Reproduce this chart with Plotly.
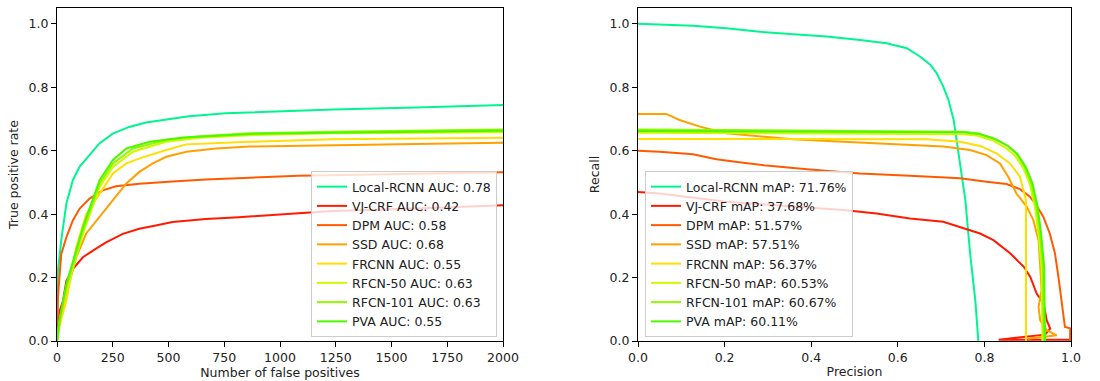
import plotly.graph_objects as go

# ---------------- data: left panel (FROC) ----------------
local_fp  = [0, 4, 19, 42, 71, 101, 138, 190, 250, 324, 399, 488, 592, 756, 964, 1238, 1611, 2000]
local_tpr = [0, 0.22, 0.317, 0.433, 0.507, 0.549, 0.58, 0.623, 0.654, 0.675, 0.689, 0.699, 0.709, 0.718, 0.723, 0.73, 0.736, 0.744]

vj_fp  = [0, 4, 12, 27, 42, 71, 116, 161, 220, 295, 369, 443, 518, 667, 815, 1083, 1238, 1611, 2000]
vj_tpr = [0, 0.04, 0.095, 0.127, 0.19, 0.227, 0.264, 0.285, 0.311, 0.338, 0.354, 0.364, 0.375, 0.385, 0.39, 0.403, 0.41, 0.418, 0.428]

dpm_fp  = [0, 4, 19, 42, 71, 101, 146, 205, 265, 369, 518, 667, 1083, 1500, 2000]
dpm_tpr = [0, 0.137, 0.274, 0.327, 0.38, 0.417, 0.449, 0.475, 0.488, 0.496, 0.503, 0.509, 0.521, 0.526, 0.532]

ssd_fp  = [0, 12, 42, 87, 131, 191, 251, 311, 371, 430, 490, 580, 714, 864, 1238, 1611, 2000]
ssd_tpr = [0, 0.06, 0.15, 0.265, 0.339, 0.39, 0.444, 0.497, 0.534, 0.56, 0.581, 0.597, 0.607, 0.613, 0.616, 0.621, 0.625]

frcnn_fp  = [0, 12, 42, 87, 131, 191, 251, 311, 371, 490, 580, 864, 1238, 2000]
frcnn_tpr = [0, 0.05, 0.128, 0.297, 0.4, 0.465, 0.528, 0.56, 0.576, 0.602, 0.62, 0.628, 0.636, 0.641]

rfcn50_fp  = [0, 12, 42, 117, 191, 251, 341, 490, 640, 864, 1238, 2000]
rfcn50_tpr = [0, 0.06, 0.16, 0.339, 0.486, 0.549, 0.597, 0.628, 0.641, 0.649, 0.655, 0.658]

rfcn101_fp  = [0, 12, 42, 117, 191, 251, 341, 490, 640, 864, 1238, 2000]
rfcn101_tpr = [0, 0.065, 0.17, 0.35, 0.497, 0.56, 0.607, 0.634, 0.646, 0.655, 0.66, 0.667]

pva_fp  = [0, 12, 42, 117, 191, 251, 311, 416, 565, 864, 1238, 2000]
pva_tpr = [0, 0.07, 0.18, 0.36, 0.507, 0.571, 0.607, 0.628, 0.642, 0.653, 0.657, 0.663]

# ---------------- data: right panel (PR) ----------------
local_p = [0, 0.05, 0.127, 0.204, 0.281, 0.359, 0.436, 0.513, 0.574, 0.621, 0.651, 0.675, 0.69, 0.705, 0.717, 0.729, 0.736, 0.744, 0.756, 0.767, 0.779, 0.786]
local_r = [1.0, 0.997, 0.994, 0.986, 0.975, 0.967, 0.96, 0.949, 0.939, 0.923, 0.897, 0.871, 0.844, 0.802, 0.76, 0.697, 0.634, 0.549, 0.444, 0.276, 0.128, 0.0]

vj_p = [0, 0.05, 0.204, 0.359, 0.474, 0.551, 0.628, 0.705, 0.744, 0.79, 0.821, 0.86, 0.891, 0.906, 0.921, 0.937, 0.944, 0.952, 0.94, 0.833, 1.0]
vj_r = [0.47, 0.465, 0.439, 0.423, 0.413, 0.402, 0.386, 0.376, 0.36, 0.339, 0.318, 0.276, 0.234, 0.202, 0.149, 0.118, 0.065, 0.039, 0.02, 0.004, 0.004]

dpm_p = [0, 0.05, 0.127, 0.181, 0.243, 0.296, 0.397, 0.512, 0.628, 0.744, 0.805, 0.851, 0.882, 0.905, 0.92, 0.936, 0.951, 0.963, 0.971, 0.978, 0.986, 0.998, 0.998]
dpm_r = [0.6, 0.597, 0.589, 0.573, 0.562, 0.553, 0.541, 0.528, 0.521, 0.513, 0.502, 0.495, 0.479, 0.455, 0.428, 0.392, 0.339, 0.276, 0.202, 0.128, 0.044, 0.04, 0.0]

ssd_p = [0, 0.065, 0.096, 0.143, 0.204, 0.281, 0.358, 0.474, 0.589, 0.705, 0.767, 0.805, 0.836, 0.855, 0.874, 0.898, 0.913, 0.925, 0.929, 0.932, 0.925, 0.929, 0.944, 0.967, 0.9]
ssd_r = [0.716, 0.716, 0.697, 0.676, 0.655, 0.646, 0.636, 0.628, 0.621, 0.613, 0.602, 0.586, 0.56, 0.518, 0.465, 0.423, 0.381, 0.318, 0.234, 0.16, 0.107, 0.065, 0.034, 0.018, 0.007]

frcnn_p = [0, 0.666, 0.744, 0.79, 0.828, 0.859, 0.882, 0.896, 0.896]
frcnn_r = [0.637, 0.636, 0.628, 0.615, 0.592, 0.56, 0.518, 0.444, 0.0]

rfcn50_p = [0, 0.75, 0.782, 0.82, 0.848, 0.87, 0.89, 0.905, 0.917, 0.925, 0.932, 0.934]
rfcn50_r = [0.657, 0.652, 0.648, 0.632, 0.61, 0.585, 0.545, 0.495, 0.42, 0.335, 0.23, 0.0]

rfcn101_p = [0, 0.75, 0.785, 0.822, 0.851, 0.873, 0.893, 0.908, 0.92, 0.928, 0.935, 0.937]
rfcn101_r = [0.667, 0.66, 0.655, 0.639, 0.618, 0.592, 0.549, 0.497, 0.423, 0.339, 0.234, 0.0]

pva_p = [0, 0.75, 0.79, 0.826, 0.855, 0.876, 0.896, 0.911, 0.923, 0.931, 0.938, 0.94]
pva_r = [0.662, 0.658, 0.652, 0.636, 0.615, 0.59, 0.548, 0.497, 0.423, 0.339, 0.234, 0.0]

names = ["Local-RCNN", "VJ-CRF", "DPM", "SSD", "FRCNN", "RFCN-50", "RFCN-101", "PVA"]
auc = ["0.78", "0.42", "0.58", "0.68", "0.55", "0.63", "0.63", "0.55"]
map_vals = ["71.76%", "37.68%", "51.57%", "57.51%", "56.37%", "60.53%", "60.67%", "60.11%"]
colors = ["#00f590", "#ff1a00", "#ff5a00", "#ffa000", "#ffde00", "#d2f800", "#90f800", "#4cf800"]

froc = [(local_fp, local_tpr), (vj_fp, vj_tpr), (dpm_fp, dpm_tpr), (ssd_fp, ssd_tpr),
        (frcnn_fp, frcnn_tpr), (rfcn50_fp, rfcn50_tpr), (rfcn101_fp, rfcn101_tpr), (pva_fp, pva_tpr)]
pr = [(local_p, local_r), (vj_p, vj_r), (dpm_p, dpm_r), (ssd_p, ssd_r),
      (frcnn_p, frcnn_r), (rfcn50_p, rfcn50_r), (rfcn101_p, rfcn101_r), (pva_p, pva_r)]

FONT = "DejaVu Sans"
FS = 12.5
fig = go.Figure()

for i in range(len(names)):
    fx, fy = froc[i]
    fig.add_trace(go.Scatter(x=fx, y=fy, mode="lines", line=dict(color=colors[i], width=2),
                             name=f"{names[i]} AUC: {auc[i]}", xaxis="x", yaxis="y", legend="legend"))
for i in range(len(names)):
    px_, py_ = pr[i]
    fig.add_trace(go.Scatter(x=px_, y=py_, mode="lines", line=dict(color=colors[i], width=2),
                             name=f"{names[i]} mAP: {map_vals[i]}", xaxis="x2", yaxis="y2", legend="legend2"))

W, H = 1100, 381
ML, MR, MT, MB = 57, 29, 8, 40
IW = W - ML - MR
IH = H - MT - MB

def dx(p):
    return (p - ML) / IW

def ly(p):
    return (H - MB - p) / IH

axis_common = dict(showline=True, linecolor="black", linewidth=1, mirror=True, ticks="outside",
                   ticklen=5, tickcolor="black", showgrid=False, zeroline=False, automargin=False,
                   tickfont=dict(family=FONT, size=FS, color="#222"),
                   title_font=dict(family=FONT, size=FS, color="#222"))

yt = [0, 0.2, 0.4, 0.6, 0.8, 1.0]
fig.update_layout(
    width=W, height=H, margin=dict(l=ML, r=MR, t=MT, b=MB, autoexpand=False),
    paper_bgcolor="white", plot_bgcolor="white",
    font=dict(family=FONT, size=FS, color="#222"),
    xaxis=dict(domain=[0, dx(503)], range=[0, 2000], tickvals=list(range(0, 2001, 250)),
               title=dict(text="Number of false positives", standoff=3), anchor="y", **axis_common),
    yaxis=dict(domain=[0, 1], range=[0, 1.05], tickvals=yt, tickformat=".1f",
               title=dict(text="True positive rate", standoff=7), anchor="x", **axis_common),
    xaxis2=dict(domain=[dx(638), 1], range=[0, 1.0], tickvals=yt, tickformat=".1f",
                title=dict(text="Precision", standoff=3), anchor="y2", **axis_common),
    yaxis2=dict(domain=[0, 1], range=[0, 1.05], tickvals=yt, tickformat=".1f",
                title=dict(text="Recall", standoff=7), anchor="x2", **axis_common),
    legend=dict(x=dx(497), y=ly(337), xanchor="right", yanchor="bottom",
                bgcolor="rgba(255,255,255,0.8)", bordercolor="#cccccc", borderwidth=1,
                font=dict(family=FONT, size=FS, color="#222"), tracegroupgap=0),
    legend2=dict(x=dx(645), y=ly(337), xanchor="left", yanchor="bottom",
                 bgcolor="rgba(255,255,255,0.8)", bordercolor="#cccccc", borderwidth=1,
                 font=dict(family=FONT, size=FS, color="#222"), tracegroupgap=0),
)

fig.write_html("out.html", config={"displayModeBar": False},
               post_script="document.body.style.margin='0px';document.body.style.overflow='hidden';")
